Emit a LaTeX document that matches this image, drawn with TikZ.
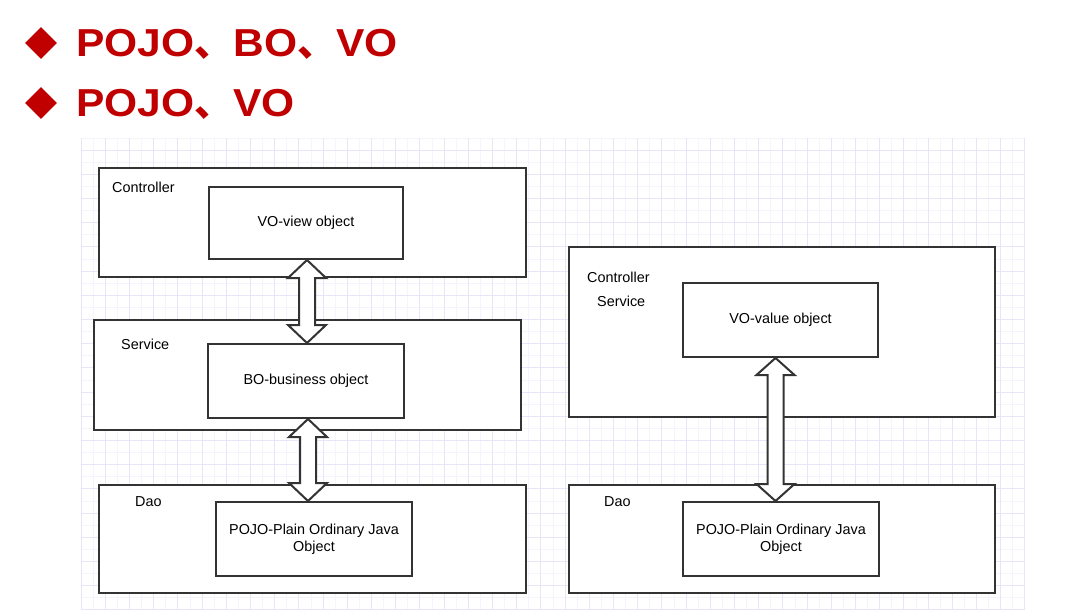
\documentclass[tikz,border=0pt]{standalone}
\usepackage{fontspec}
\setmainfont{Liberation Sans}
\newfontfamily\cjk{Noto Sans CJK SC}
\newfontfamily\titlefont[FakeStretch=1.09]{Liberation Sans}
\usetikzlibrary{shapes.geometric,positioning,calc}

\definecolor{titlered}{RGB}{192,0,0}
\definecolor{boxline}{RGB}{51,51,51}
\definecolor{gridminor}{RGB}{245,243,252}
\definecolor{gridmajor}{RGB}{232,229,248}

\tikzset{
  bullet/.style={diamond, fill=titlered, inner sep=0pt, minimum width=32, minimum height=32},
  titletext/.style={font=\titlefont\bfseries\fontsize{39}{42}\selectfont, text=titlered, inner sep=0pt, anchor=base west},
  layer/.style={rectangle, draw=boxline, line width=2pt, fill=white, inner sep=0pt},
  objbox/.style={layer, align=center, font=\fontsize{14.4}{17}\selectfont},
  layername/.style={anchor=west, inner sep=0pt, font=\fontsize{14.4}{17}\selectfont},
  blockarrow/.style={draw=boxline, line width=2pt, fill=white, line join=miter},
}

\begin{document}
\begin{tikzpicture}[x=1pt, y=-1pt]

  %% ════ 标题 ════
  \node[bullet] (b1) at (41,43) {};
  \node[titletext] (t1) at ($(b1.east)+(19,14)$) {POJO{\cjk\bfseries 、}BO{\cjk\bfseries 、}VO};
  \node[bullet] (b2) at (41,103) {};
  \node[titletext] (t2) at ($(b2.east)+(19,14)$) {POJO{\cjk\bfseries 、}VO};

  %% ════ 背景网格 ════
  \foreach \k in {0,...,78}
    \draw[gridminor, line width=0.8pt] ({81+12.1*\k},137.9) -- ({81+12.1*\k},610);
  \foreach \k in {0,...,39}
    \draw[gridminor, line width=0.8pt] (81,{137.9+12.1*\k}) -- (1025,{137.9+12.1*\k});
  \foreach \k in {0,...,39}
    \draw[gridmajor, line width=0.9pt] ({81+24.2*\k},137.9) -- ({81+24.2*\k},610);
  \foreach \k in {0,...,19}
    \draw[gridmajor, line width=0.9pt] (81,{150+24.2*\k}) -- (1025,{150+24.2*\k});

  %% ════ 左：Controller / Service / Dao 三层 ════
  \node[layer, minimum width=427, minimum height=109] (ctrl) at (312.5,222.5) {};
  \node[layer, minimum width=427, minimum height=110] (svc) at (307.5,375) {};
  \node[layer, minimum width=427, minimum height=108] (dao) at (312.5,539) {};

  \node[layername] (ctrlname) at (112,187) {Controller};
  \node[layername] (svcname) at (121,344) {Service};
  \node[layername] (daoname) at (135,502) {Dao};

  \node[objbox, minimum width=194, minimum height=72] (vov) at (306,223) {VO-view object};
  \node[objbox, minimum width=196, minimum height=74] (bo) at (306,381) {BO-business object};
  \node[objbox, minimum width=196, minimum height=74] (pojo) at (314,539) {POJO-Plain Ordinary Java\\Object};

  %% ════ 右：Controller+Service / Dao 两层 ════
  \node[layer, minimum width=426, minimum height=170] (ctrlsvc) at (782,332) {};
  \node[layer, minimum width=426, minimum height=108] (daoR) at (782,539) {};

  \node[layername] (ctrlnameR) at (587,277) {Controller};
  \node[layername] (svcnameR) at (597,301) {Service};
  \node[layername] (daonameR) at (604,502) {Dao};

  \node[objbox, minimum width=195, minimum height=74] (vovalue) at (780.5,320) {VO-value object};
  \node[objbox, minimum width=196, minimum height=74] (pojoR) at (781,539) {POJO-Plain Ordinary Java\\Object};

  %% ════ 空心双向箭头（压在层框线上）════
  \draw[blockarrow] let \p1=($(vov.south)+(1,0)$), \p2=(bo.north) in
    (\x1,\y1) -- ({\x1+19pt},{\y1-18pt}) -- ({\x1+8pt},{\y1-18pt}) -- ({\x1+8pt},{\y2+18pt})
    -- ({\x1+19pt},{\y2+18pt}) -- (\x1,\y2) -- ({\x1-19pt},{\y2+18pt}) -- ({\x1-8pt},{\y2+18pt})
    -- ({\x1-8pt},{\y1-18pt}) -- ({\x1-19pt},{\y1-18pt}) -- cycle;
  \draw[blockarrow] let \p1=($(bo.south)+(2,0)$), \p2=(pojo.north) in
    (\x1,\y1) -- ({\x1+19pt},{\y1-18pt}) -- ({\x1+8pt},{\y1-18pt}) -- ({\x1+8pt},{\y2+18pt})
    -- ({\x1+19pt},{\y2+18pt}) -- (\x1,\y2) -- ({\x1-19pt},{\y2+18pt}) -- ({\x1-8pt},{\y2+18pt})
    -- ({\x1-8pt},{\y1-18pt}) -- ({\x1-19pt},{\y1-18pt}) -- cycle;
  \draw[blockarrow] let \p1=($(vovalue.south)+(-5,0)$), \p2=(pojoR.north) in
    (\x1,\y1) -- ({\x1+19pt},{\y1-17pt}) -- ({\x1+8pt},{\y1-17pt}) -- ({\x1+8pt},{\y2+17pt})
    -- ({\x1+19pt},{\y2+17pt}) -- (\x1,\y2) -- ({\x1-19pt},{\y2+17pt}) -- ({\x1-8pt},{\y2+17pt})
    -- ({\x1-8pt},{\y1-17pt}) -- ({\x1-19pt},{\y1-17pt}) -- cycle;

  % 钉死画布
  \pgfresetboundingbox
  \path[use as bounding box] (0,0) rectangle (1066,610);
\end{tikzpicture}
\end{document}
